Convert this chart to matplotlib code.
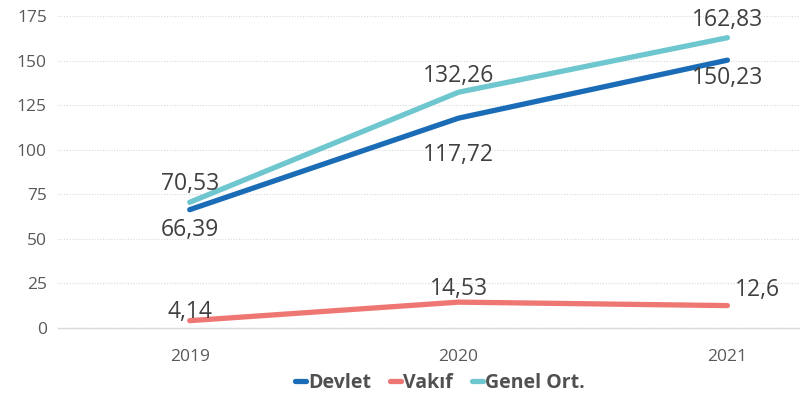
import matplotlib.pyplot as plt
from matplotlib.lines import Line2D

# Yearly averages per university type
years = ["2019", "2020", "2021"]
devlet = [66.39, 117.72, 150.23]
vakif = [4.14, 14.53, 12.6]
genel = [70.53, 132.26, 162.83]
series_names = ["Devlet", "Vakıf", "Genel Ort."]

colors = ["#1B6CB6", "#EE7774", "#6EC6CF"]
text_color = "#404040"

plt.rcParams["font.family"] = ["Open Sans", "DejaVu Sans"]

fig = plt.figure(figsize=(8, 4.05), dpi=100)
ax = fig.add_axes([0.0725, 0.19, 0.9275, 0.7705])

x = list(range(len(years)))
for vals, c in zip([devlet, vakif, genel], colors):
    ax.plot(x, vals, color=c, lw=3.8, solid_capstyle="round", zorder=3)


def fmt(v):
    return f"{v:g}".replace(".", ",")


# label offsets in points (dx, dy)
off_devlet = [(0, -14.5), (0, -26.5), (0, -13)]
off_vakif = [(0, 6.5), (0, 9.5), (21.5, 11)]
off_genel = [(0, 13.5), (0, 12), (0, 13)]
for vals, offs in [(devlet, off_devlet), (vakif, off_vakif), (genel, off_genel)]:
    for xi, v, (dx, dy) in zip(x, vals, offs):
        ax.annotate(fmt(v), (xi, v), xytext=(dx, dy), textcoords="offset points",
                    ha="center", va="center", fontsize=16.5, color=text_color, zorder=4)

ax.set_xlim(-0.49, 2.27)
ax.set_ylim(0, 175)
ax.set_yticks(range(0, 176, 25))
ax.set_xticks(x)
ax.set_xticklabels(years)
ax.tick_params(axis="both", length=0, labelsize=12.5, colors="#595959")
ax.tick_params(axis="x", pad=15)
ax.tick_params(axis="y", pad=8)

ax.grid(axis="y", color="#D9D9D9", linestyle=(0, (1, 1.5)), lw=0.8)
ax.set_axisbelow(True)
for s in ["top", "right", "left"]:
    ax.spines[s].set_visible(False)
ax.spines["bottom"].set_color("#D9D9D9")
ax.spines["bottom"].set_linewidth(1)

handles = [Line2D([], [], color=c, lw=3.8, solid_capstyle="round") for c in colors]
fig.legend(handles, series_names, loc="center", bbox_to_anchor=(0.55, 0.055), ncol=3,
           frameon=False, handlelength=0.55, handletextpad=0.1, columnspacing=1.0,
           prop={"size": 14, "weight": "bold"}, labelcolor="#505050")

fig.savefig("out.png", dpi=100)
